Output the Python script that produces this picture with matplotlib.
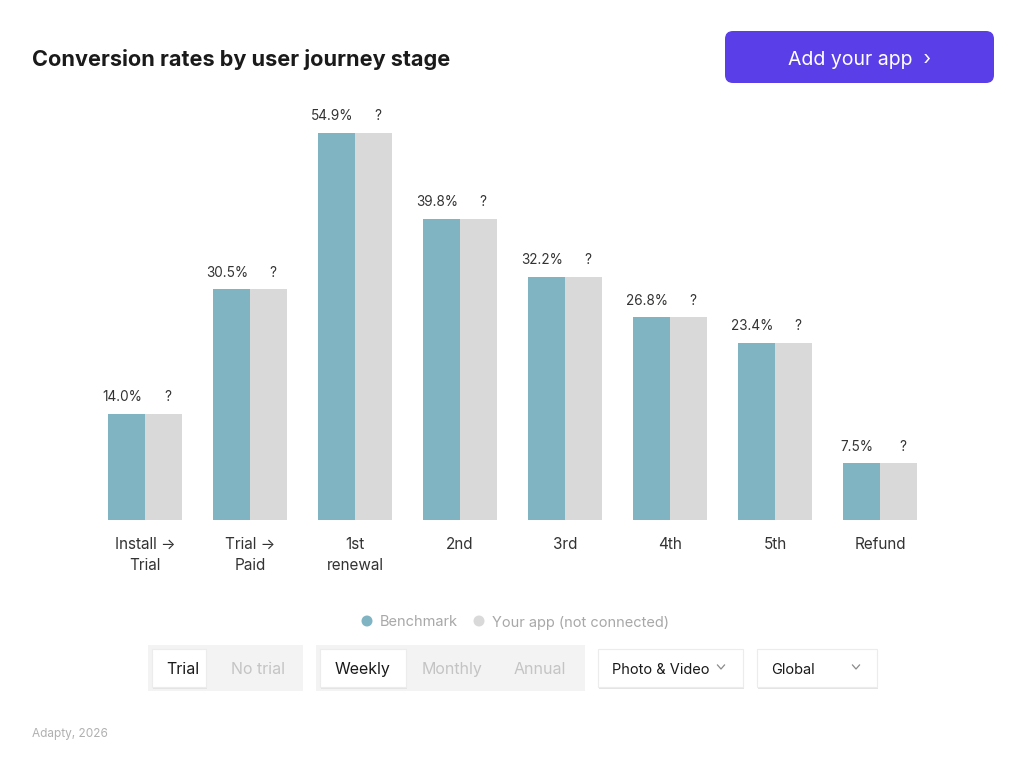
import matplotlib.pyplot as plt
from matplotlib.patches import FancyBboxPatch, Rectangle, Circle
import numpy as np

# data
stages = ["Install →\nTrial", "Trial →\nPaid", "1st\nrenewal", "2nd", "3rd", "4th", "5th", "Refund"]
benchmark = [14.0, 30.5, 54.9, 39.8, 32.2, 26.8, 23.4, 7.5]
your_app = [14.0, 30.5, 54.9, 39.8, 32.2, 26.8, 23.4, 7.5]  # placeholder bars, not connected
your_app_labels = ["?"] * 8

teal = "#80b4c3"
grey = "#d9d9d9"
purple = "#5a3ee8"

plt.rcParams['font.family'] = ['Inter', 'DejaVu Sans']

fig = plt.figure(figsize=(10.24, 7.74), dpi=100)
fig.patch.set_facecolor("white")

# overlay in pixel coordinates for the UI bits
ui = fig.add_axes([0, 0, 1, 1], zorder=0)
ui.set_xlim(0, 1024)
ui.set_ylim(774, 0)
ui.axis("off")

ui.text(32, 58, "Conversion rates by user journey stage", fontsize=15.6, fontweight="bold",
        color="#1a1a1a", va="center_baseline", ha="left")

ui.add_patch(FancyBboxPatch((725, 31), 269, 52, boxstyle="round,pad=0,rounding_size=8",
                            fc=purple, ec="none"))
ui.text(859, 58, "Add your app  ›", fontsize=14, color="white", ha="center", va="center_baseline")

# legend
ui.add_patch(Circle((367, 621), 5.5, fc=teal, ec="none"))
ui.text(380, 621, "Benchmark", fontsize=10.5, color="#a8a8a8", va="center_baseline")
ui.add_patch(Circle((479, 621), 5.5, fc=grey, ec="none"))
ui.text(492, 621, "Your app (not connected)", fontsize=10.5, color="#a8a8a8", va="center_baseline")


def white_box(x, y, w, h):
    ui.add_patch(Rectangle((x + 1, y + 2), w, h, fc="#e4e4e4", ec="none"))
    ui.add_patch(Rectangle((x, y), w, h, fc="white", ec="#ececec", lw=0.8))


def chevron(cx, cy):
    ui.plot([cx - 3.5, cx, cx + 3.5], [cy - 2, cy + 2, cy - 2], color="#8a8a8a", lw=0.9)


# toggle groups
ui.add_patch(Rectangle((148, 645), 155, 46, fc="#f3f3f3", ec="none"))
white_box(152, 649, 54, 38)
ui.text(183, 668, "Trial", fontsize=11.5, color="#1a1a1a", ha="center", va="center_baseline")
ui.text(258, 668, "No trial", fontsize=11.5, color="#c4c4c4", ha="center", va="center_baseline")

ui.add_patch(Rectangle((316, 645), 269, 46, fc="#f3f3f3", ec="none"))
white_box(320, 649, 86, 38)
ui.text(363, 668, "Weekly", fontsize=11.5, color="#1a1a1a", ha="center", va="center_baseline")
ui.text(452, 668, "Monthly", fontsize=11.5, color="#c4c4c4", ha="center", va="center_baseline")
ui.text(540, 668, "Annual", fontsize=11.5, color="#c4c4c4", ha="center", va="center_baseline")

white_box(598, 649, 145, 38)
ui.text(612, 668, "Photo & Video", fontsize=10.5, color="#1a1a1a", ha="left", va="center_baseline")
chevron(721, 667)
white_box(757, 649, 120, 38)
ui.text(771, 668, "Global", fontsize=10.5, color="#1a1a1a", ha="left", va="center_baseline")
chevron(856, 667)

ui.text(32, 733, "Adapty, 2026", fontsize=8.5, color="#b0b0b0", va="center_baseline")

# bar chart
ax = fig.add_axes([92.5 / 1024, 254 / 774, 840 / 1024, 387 / 774], zorder=1)
ax.patch.set_alpha(0)
x = np.arange(len(stages))
w = 0.352
ymax = 51.2
ax.bar(x - w / 2, benchmark, w, color=teal, linewidth=0)
ax.bar(x + w / 2, your_app, w, color=grey, linewidth=0)
ax.set_xlim(-0.5, len(stages) - 0.5)
ax.set_ylim(0, ymax)

for i in range(len(stages)):
    top = min(benchmark[i], ymax)
    ax.annotate(f"{benchmark[i]:.1f}%", (x[i] - w / 2, top), xytext=(-3, 7),
                textcoords="offset points", ha="center", va="bottom", fontsize=9.8, color="#333333")
    top2 = min(your_app[i], ymax)
    ax.annotate(your_app_labels[i], (x[i] + w / 2, top2), xytext=(3, 7),
                textcoords="offset points", ha="center", va="bottom", fontsize=9.8, color="#333333")

ax.set_xticks(x)
ax.set_xticklabels(stages, fontsize=11, color="#333333", linespacing=1.55)
ax.tick_params(axis="x", length=0, pad=12)
ax.set_yticks([])
for s in ax.spines.values():
    s.set_visible(False)

fig.savefig("out.png", dpi=100, facecolor="white")
